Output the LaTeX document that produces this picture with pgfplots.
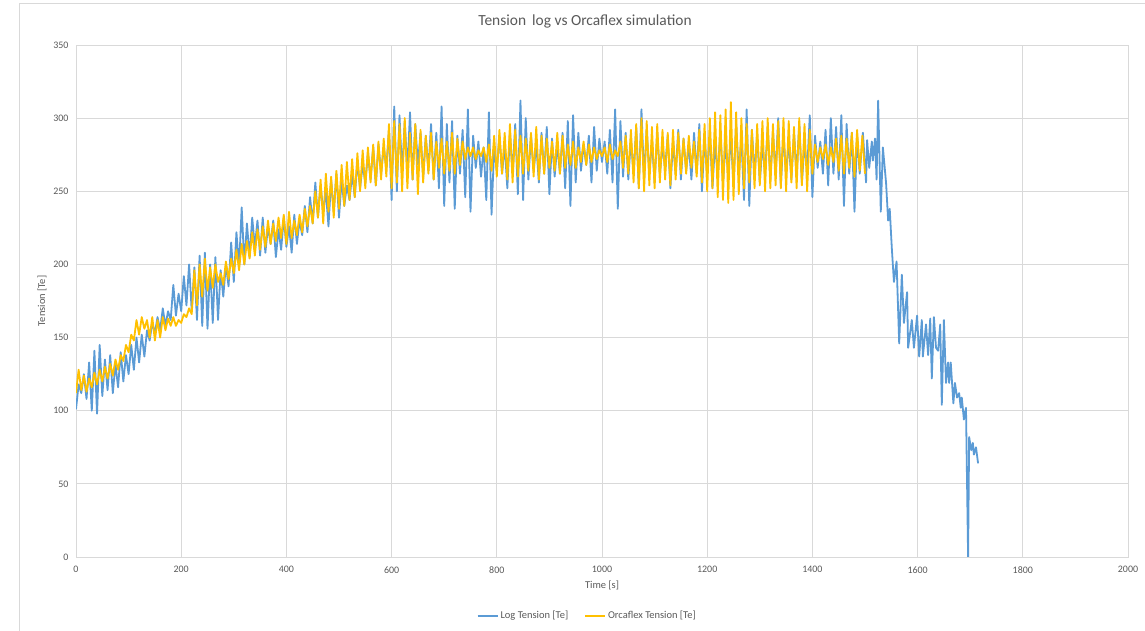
\documentclass[border=0pt]{standalone}
\usepackage{pgfplots}
\pgfplotsset{compat=1.18}
\usepackage{fontspec}
\setmainfont{Carlito}
\definecolor{exblue}{HTML}{5B9BD5}
\definecolor{exorange}{HTML}{FFC000}
\definecolor{gridc}{HTML}{D9D9D9}
\definecolor{txtc}{HTML}{595959}
\begin{document}
\begin{tikzpicture}[x=1bp,y=1bp]
\begin{axis}[
  at={(0bp,0bp)}, anchor=origin,
  scale only axis, width=1052bp, height=512bp,
  xmin=0, xmax=2000, ymin=0, ymax=350,
  xtick={0,200,...,2000}, ytick={0,50,...,350},
  grid=major, major grid style={gridc, line width=0.8bp},
  axis line style={gridc, line width=0.8bp},
  major tick length=0pt,
  /pgf/number format/assume math mode=true,
  /pgf/number format/1000 sep={},
  tick label style={font=\fontsize{10}{12}\selectfont, text=txtc},
  xticklabel style={yshift=-6bp},
  yticklabel style={xshift=-4bp},
  xlabel={Time [s]},
  label style={font=\fontsize{10.5}{12}\selectfont, text=txtc},
  xlabel style={at={(axis description cs:0.5,0)}, anchor=center, yshift=-28bp},
  legend style={at={(axis description cs:0.486,-0.115)}, anchor=center, draw=none, fill=none,
    font=\fontsize{10.5}{12}\selectfont, text=txtc, legend columns=2,
    /tikz/every even column/.append style={column sep=14bp}},
  legend image code/.code={\draw[#1, line width=1.8bp] (0bp,0bp) -- (20bp,0bp);},
  clip=true,
]
\addplot[exblue, line width=1.8bp, line join=round] coordinates {
(0,101)(5,118)(10,112)(15,125)(20,108)(25,133)(30,100)(35,141)(40,98)(45,145)
(50,110)(55,135)(60,114)(65,138)(70,112)(75,132)(80,116)(85,140)(90,120)(95,138)
(100,125)(105,145)(110,128)(115,150)(120,133)(125,152)(130,137)(135,155)(140,148)(145,160)
(150,153)(155,164)(160,155)(165,170)(170,158)(175,168)(180,162)(185,186)(190,165)(195,180)
(200,168)(205,192)(210,172)(215,200)(220,168)(225,198)(230,162)(235,206)(240,158)(245,208)
(250,156)(255,200)(260,160)(265,205)(270,162)(275,196)(280,178)(285,200)(290,185)(295,215)
(300,188)(305,222)(310,198)(315,239)(320,200)(325,228)(330,205)(335,232)(340,212)(345,230)
(350,206)(355,232)(360,208)(365,226)(370,214)(375,230)(380,205)(385,224)(390,210)(395,232)
(400,212)(405,226)(410,208)(415,234)(420,214)(425,230)(430,220)(435,240)(440,222)(445,246)
(450,228)(455,256)(460,232)(465,254)(470,236)(475,250)(480,226)(485,258)(490,236)(495,262)
(500,232)(505,258)(510,240)(515,254)(520,244)(525,262)(530,246)(535,270)(540,252)(545,268)
(550,256)(555,276)(560,258)(565,280)(570,254)(575,282)(580,262)(585,280)(590,266)(595,292)
(600,244)(605,308)(610,250)(615,302)(620,262)(625,298)(630,264)(635,304)(640,258)(645,296)
(650,268)(655,290)(660,260)(665,288)(670,264)(675,296)(680,258)(685,290)(690,252)(695,308)
(700,240)(705,296)(710,256)(715,298)(720,238)(725,288)(730,262)(735,292)(740,246)(745,306)
(750,236)(755,288)(760,266)(765,284)(770,260)(775,280)(780,244)(785,304)(790,234)(795,280)
(800,264)(805,288)(810,262)(815,282)(820,252)(825,290)(830,262)(835,296)(840,248)(845,312)
(850,244)(855,300)(860,258)(865,288)(870,264)(875,282)(880,256)(885,290)(890,262)(895,294)
(900,248)(905,286)(910,260)(915,282)(920,262)(925,290)(930,252)(935,298)(940,240)(945,302)
(950,256)(955,290)(960,264)(965,282)(970,268)(975,288)(980,256)(985,294)(990,264)(995,286)
(1000,270)(1005,284)(1010,262)(1015,292)(1020,256)(1025,306)(1030,238)(1035,298)(1040,260)(1045,290)
(1050,258)(1055,286)(1060,262)(1065,294)(1070,252)(1075,306)(1080,258)(1085,292)(1090,262)(1095,284)
(1100,256)(1105,290)(1110,262)(1115,280)(1120,266)(1125,288)(1130,252)(1135,284)(1140,262)(1145,292)
(1150,258)(1155,286)(1160,264)(1165,282)(1170,258)(1175,290)(1180,262)(1185,296)(1190,250)(1195,286)
(1200,262)(1205,290)(1210,252)(1215,284)(1220,260)(1225,292)(1230,256)(1235,282)(1240,262)(1245,288)
(1250,254)(1255,296)(1260,262)(1265,286)(1270,244)(1275,306)(1280,240)(1285,292)(1290,262)(1295,288)
(1300,256)(1305,282)(1310,262)(1315,294)(1320,258)(1325,290)(1330,262)(1335,300)(1340,254)(1345,288)
(1350,262)(1355,284)(1360,258)(1365,290)(1370,262)(1375,296)(1380,256)(1385,282)(1390,264)(1395,302)
(1400,246)(1405,288)(1410,266)(1415,284)(1420,262)(1425,292)(1430,254)(1435,300)(1440,262)(1445,294)
(1450,258)(1455,302)(1460,240)(1465,296)(1470,262)(1475,290)(1480,236)(1485,288)(1490,262)(1496,290)
(1502,256)(1504,285)(1508,266)(1513,284)(1515,271)(1519,286)(1522,258)(1525,312)(1530,236)(1534,280)
(1540,256)(1544,230)(1547,238)(1551,211)(1555,188)(1560,202)(1565,146)(1570,193)(1574,160)(1580,181)
(1582,143)(1589,162)(1593,143)(1599,165)(1603,137)(1608,162)(1610,137)(1616,159)(1620,138)(1624,163)
(1627,122)(1631,164)(1635,143)(1639,141)(1643,159)(1646,104)(1650,162)(1654,119)(1658,133)(1660,119)
(1663,133)(1668,105)(1671,119)(1675,109)(1679,112)(1682,102)(1684,109)(1688,94)(1692,102)(1696,0)
(1698,82)(1702,73)(1705,78)(1707,70)(1711,75)(1715,64)
};
\addlegendentry{Log Tension [Te]}
\addplot[exorange, line width=1.8bp, line join=round] coordinates {
(0,112)(5,128)(10,114)(15,124)(20,113)(25,122)(30,116)(35,126)(40,118)(45,128)
(50,120)(55,130)(60,122)(65,132)(70,124)(75,135)(80,128)(85,138)(90,134)(95,145)
(100,140)(105,152)(110,148)(115,162)(120,152)(125,164)(130,156)(135,162)(140,150)(145,164)
(150,148)(155,162)(160,150)(165,164)(170,155)(175,163)(180,158)(185,164)(190,158)(195,162)
(200,160)(205,166)(210,164)(215,170)(220,166)(225,196)(230,172)(235,200)(240,178)(245,204)
(250,182)(255,198)(260,184)(265,200)(270,188)(275,194)(280,186)(285,202)(290,190)(295,204)
(300,194)(305,210)(310,196)(315,214)(320,200)(325,216)(330,204)(335,222)(340,206)(345,224)
(350,210)(355,226)(360,212)(365,230)(370,214)(375,228)(380,216)(385,232)(390,218)(395,234)
(400,214)(405,236)(410,218)(415,230)(420,220)(425,234)(430,222)(435,238)(440,226)(445,240)
(450,228)(455,250)(460,232)(465,258)(470,228)(475,262)(480,236)(485,260)(490,232)(495,264)
(500,238)(505,268)(510,240)(515,270)(520,244)(525,272)(530,246)(535,276)(540,250)(545,278)
(550,252)(555,280)(560,256)(565,282)(570,254)(575,284)(580,258)(585,286)(590,260)(595,296)
(600,252)(605,298)(610,256)(615,296)(620,250)(625,300)(630,252)(635,290)(640,258)(645,296)
(650,248)(655,292)(660,256)(665,288)(670,262)(675,290)(680,258)(685,284)(690,266)(695,286)
(700,262)(705,284)(710,264)(715,290)(720,262)(725,286)(730,268)(735,284)(740,272)(745,280)
(750,274)(755,280)(760,272)(765,278)(770,274)(775,280)(780,270)(785,282)(790,264)(795,288)
(800,260)(805,292)(810,262)(815,290)(820,258)(825,296)(830,256)(835,292)(840,260)(845,288)
(850,262)(855,286)(860,264)(865,290)(870,260)(875,294)(880,258)(885,288)(890,262)(895,286)
(900,266)(905,284)(910,264)(915,290)(920,262)(925,288)(930,266)(935,282)(940,268)(945,284)
(950,266)(955,280)(960,270)(965,284)(970,268)(975,282)(980,270)(985,280)(990,272)(995,278)
(1000,274)(1005,280)(1010,270)(1015,282)(1020,272)(1025,278)(1030,274)(1035,284)(1040,266)(1045,288)
(1050,262)(1055,292)(1060,256)(1065,296)(1070,252)(1075,300)(1080,250)(1085,298)(1090,254)(1095,294)
(1100,252)(1105,296)(1110,256)(1115,292)(1120,258)(1125,290)(1130,254)(1135,292)(1140,258)(1145,290)
(1150,262)(1155,286)(1160,262)(1165,288)(1170,266)(1175,284)(1180,260)(1185,292)(1190,256)(1195,296)
(1200,250)(1205,300)(1210,252)(1215,304)(1220,246)(1225,302)(1230,244)(1235,306)(1240,242)(1245,311)
(1250,244)(1255,304)(1260,248)(1265,300)(1270,252)(1275,296)(1280,256)(1285,292)(1290,252)(1295,296)
(1300,254)(1305,298)(1310,250)(1315,300)(1320,252)(1325,296)(1330,254)(1335,298)(1340,252)(1345,300)
(1350,250)(1355,298)(1360,256)(1365,294)(1370,252)(1375,300)(1380,254)(1385,296)(1390,250)(1395,292)
(1400,262)(1405,282)(1410,270)(1415,280)(1420,272)(1425,282)(1430,268)(1435,280)(1440,270)(1445,286)
(1450,264)(1455,288)(1460,262)(1465,286)(1470,266)(1475,290)(1480,260)(1485,292)(1490,264)(1495,288)
(1500,262)
};
\addlegendentry{Orcaflex Tension [Te]}
\end{axis}
\node[font=\fontsize{10.5}{12}\selectfont, text=txtc, rotate=90] at (-34bp,256bp) {Tension [Te]};
\node[font=\fontsize{15.5}{18}\selectfont, text=txtc] at (509bp,536bp) {Tension\, log vs Orcaflex simulation};
\draw[gridc, line width=0.8bp] (-57bp,-74bp) -- (-57bp,554bp) -- (1069bp,554bp);
\pgfresetboundingbox
\useasboundingbox (-76bp,-74bp) rectangle (1069bp,557bp);
\end{tikzpicture}
\end{document}
